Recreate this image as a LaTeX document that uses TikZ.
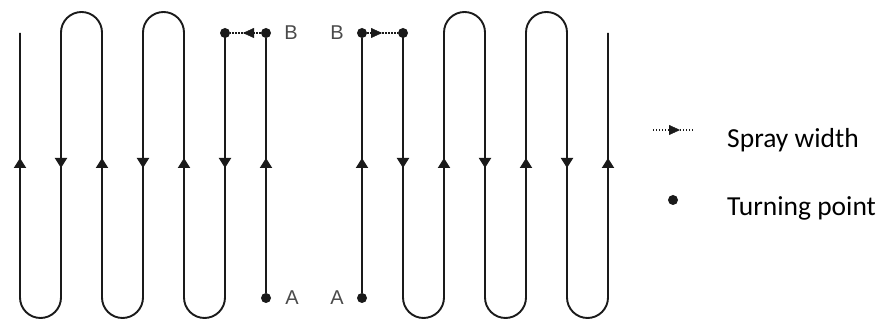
\documentclass[tikz,border=0pt]{standalone}
\usepackage{fontspec}
\setmainfont{Carlito}
\newfontfamily\letterfont{Liberation Sans}
\usetikzlibrary{arrows.meta,positioning}
\definecolor{ink}{HTML}{1A1A1A}
\definecolor{lettergray}{HTML}{4A4A4A}

\begin{document}
\begin{tikzpicture}[x=1pt,y=1pt,
    route/.style={ink,line width=1.9pt},
    turn/.style={circle,fill=ink,inner sep=0pt,minimum size=10pt},
    spray/.style={ink,line width=1.8pt,dash pattern=on 1.4pt off 1.6pt},
    flow/.style={-{Triangle[length=10pt,width=12pt]},ink,line width=1.9pt},
    head/.style={-{Triangle[length=11pt,width=10pt]},ink,line width=0.4pt},
    letter/.style={inner sep=0pt,text=lettergray,font=\fontsize{20}{22}\selectfont\letterfont},
    legend/.style={inner sep=0pt,font=\fontsize{27.5}{30}\selectfont}]
  \useasboundingbox (0,0) rectangle (885,320);
  % turning points
  \node[turn] (A1) at (266,22) {};
  \node[turn] (B1) at (266,287) {};
  \node[turn] (B0) at (225,287) {};
  \node[turn] (A2) at (362,22) {};
  \node[turn] (B2) at (362,287) {};
  \node[turn] (B3) at (403,287) {};
  \coordinate (E1) at (20,287);
  \coordinate (E2) at (608,287);
  \node[letter,right=14pt of A1] (la1) {A};
  \node[letter,right=13pt of B1] (lb1) {B};
  \node[letter,left=13pt of A2] (la2) {A};
  \node[letter,left=13pt of B2] (lb2) {B};
  % left pass
  \draw[route] (A1) -- (B1);
  \draw[spray] (B1) -- (B0);
  \draw[head] (254,287) -- (243,287);
  \draw[route] (B0.center) -- (225,22.5) arc[start angle=0,end angle=-180,radius=20.5]
    -- (184,287.5) arc[start angle=0,end angle=180,radius=20.5]
    -- (143,22.5) arc[start angle=0,end angle=-180,radius=20.5]
    -- (102,287.5) arc[start angle=0,end angle=180,radius=20.5]
    -- (61,22.5) arc[start angle=0,end angle=-180,radius=20.5] -- (E1);
  % right pass
  \draw[route] (A2) -- (B2);
  \draw[spray] (B2) -- (B3);
  \draw[head] (370,287) -- (382,287);
  \draw[route] (B3.center) -- (403,22.5) arc[start angle=180,end angle=360,radius=20.5]
    -- (444,287.5) arc[start angle=180,end angle=0,radius=20.5]
    -- (485,22.5) arc[start angle=180,end angle=360,radius=20.5]
    -- (526,287.5) arc[start angle=180,end angle=0,radius=20.5]
    -- (567,22.5) arc[start angle=180,end angle=360,radius=20.5] -- (E2);
  % direction marks
  \foreach \x in {20,102,184,266,362,444,526,608}
    \draw[flow] (\x,150) -- (\x,162);
  \foreach \x in {61,143,225,403,485,567}
    \draw[flow] (\x,164) -- (\x,152);
  % legend
  \coordinate (s0) at (653,190);
  \coordinate (s1) at (693,190);
  \draw[spray] (s0) -- (s1);
  \draw[head] (669,190) -- (680,190);
  \node[legend,anchor=base west] (spraytxt) at (727,172) {Spray width};
  \node[turn] (key) at (673,120) {};
  \node[legend,anchor=base west] (turntxt) at (727,104) {Turning point};
\end{tikzpicture}
\end{document}
